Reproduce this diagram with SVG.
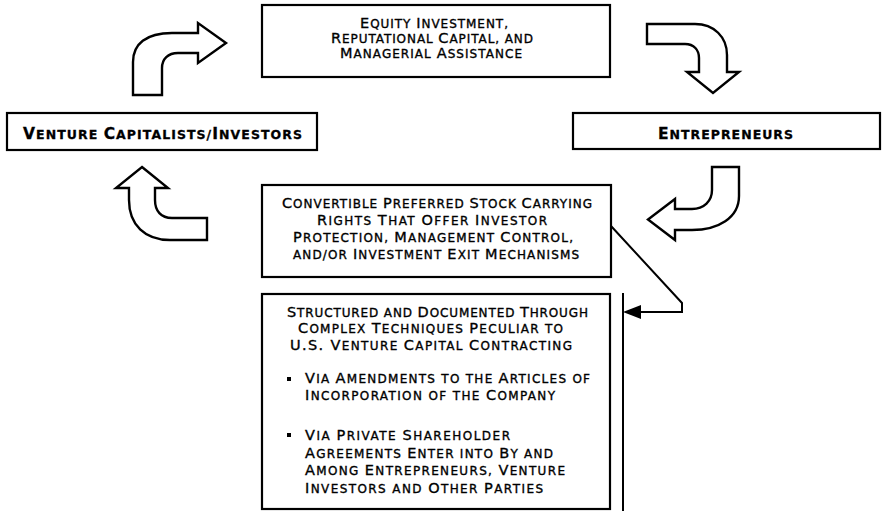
<svg xmlns="http://www.w3.org/2000/svg" width="884" height="511" viewBox="0 0 884 511">
<style>
.box{fill:#fff;stroke:#000;stroke-width:2.2}
.blk{fill:#fff;stroke:#000;stroke-width:2.4;stroke-linejoin:miter}
.t{font-family:"DejaVu Sans",Verdana,sans-serif;font-size:12px;text-transform:uppercase;fill:#000;stroke:#000;stroke-width:0.35}
.c{font-size:14.5px}
.n{font-family:"DejaVu Sans",Verdana,sans-serif;font-size:12.5px;font-weight:bold;text-transform:uppercase;fill:#000;stroke:#000;stroke-width:0.3}
.nc{font-size:15.5px}
.ln{fill:none;stroke:#000;stroke-width:2}
</style>
<rect width="884" height="511" fill="#fff"/>

<g id="arrows">
<path class="blk" d="M133,95 L133,62 C133,44 146,33 172,33 L198,33 L198,23 L226,43 L198,63 L198,53 L178,53 C168,53 162,59 162,68 L162,95 Z"/>
<path class="blk" d="M647,24 L695,24 C714,24 727,37 727,55 L727,72 L739,72 L713,93 L687,72 L699,72 L699,58 C699,50 694,44 685,44 L647,44 Z"/>
<path class="blk" d="M712,167 L739,167 L739,196 C739,218 718,230 692,230 L675,230 L675,240 L648,219.5 L675,199 L675,209 L692,209 C704,209 712,201 712,190 Z"/>
<path class="blk" d="M142,167 L168,188 L155,188 L155,200 C155,211 161,218 172,218 L207,218 L207,240 L170,240 C145,240 129,225 129,200 L129,188 L116,188 Z"/>
</g>

<g id="connectors">
<polyline class="ln" points="611,226 682,303 682,312 638,312"/>
<polygon points="623,312 641,305 641,319" fill="#000"/>
<line class="ln" x1="623" y1="293" x2="623" y2="511"/>
</g>

<g id="equity">
<rect class="box" x="262" y="5" width="348" height="72"/>
<text class="t" x="360" y="28" textLength="148"><tspan class="c">E</tspan>quity <tspan class="c">I</tspan>nvestment,</text>
<text class="t" x="331" y="43" textLength="202"><tspan class="c">R</tspan>eputational <tspan class="c">C</tspan>apital, and</text>
<text class="t" x="340" y="58" textLength="182"><tspan class="c">M</tspan>anagerial <tspan class="c">A</tspan>ssistance</text>
</g>

<g id="vc">
<rect class="box" x="7" y="113" width="310" height="37"/>
<text class="n" x="23" y="139" textLength="279"><tspan class="nc">V</tspan>enture <tspan class="nc">C</tspan>apitalists/<tspan class="nc">I</tspan>nvestors</text>
</g>

<g id="entrepreneurs">
<rect class="box" x="573" y="113" width="307" height="36"/>
<text class="n" x="658" y="139" textLength="135"><tspan class="nc">E</tspan>ntrepreneurs</text>
</g>

<g id="stock">
<rect class="box" x="262" y="185" width="349" height="92"/>
<text class="t" x="282" y="208" textLength="310"><tspan class="c">C</tspan>onvertible <tspan class="c">P</tspan>referred <tspan class="c">S</tspan>tock <tspan class="c">C</tspan>arrying</text>
<text class="t" x="317" y="225" textLength="230"><tspan class="c">R</tspan>ights <tspan class="c">T</tspan>hat <tspan class="c">O</tspan>ffer <tspan class="c">I</tspan>nvestor</text>
<text class="t" x="293" y="242" textLength="280"><tspan class="c">P</tspan>rotection, <tspan class="c">M</tspan>anagement <tspan class="c">C</tspan>ontrol,</text>
<text class="t" x="293" y="259" textLength="286">and/or <tspan class="c">I</tspan>nvestment <tspan class="c">E</tspan>xit <tspan class="c">M</tspan>echanisms</text>
</g>

<g id="structured">
<rect class="box" x="262" y="294" width="348" height="215"/>
<text class="t" x="287" y="317" textLength="301"><tspan class="c">S</tspan>tructured and <tspan class="c">D</tspan>ocumented <tspan class="c">T</tspan>hrough</text>
<text class="t" x="298" y="333" textLength="265"><tspan class="c">C</tspan>omplex <tspan class="c">T</tspan>echniques <tspan class="c">P</tspan>eculiar to</text>
<text class="t" x="290" y="350" textLength="282"><tspan class="c">U.S. V</tspan>enture <tspan class="c">C</tspan>apital <tspan class="c">C</tspan>ontracting</text>
<rect x="287" y="377" width="4" height="4" fill="#000"/>
<text class="t" x="305" y="383" textLength="285"><tspan class="c">V</tspan>ia <tspan class="c">A</tspan>mendments to the <tspan class="c">A</tspan>rticles of</text>
<text class="t" x="305" y="400" textLength="250"><tspan class="c">I</tspan>ncorporation of the <tspan class="c">C</tspan>ompany</text>
<rect x="287" y="433" width="4" height="4" fill="#000"/>
<text class="t" x="305" y="440" textLength="205"><tspan class="c">V</tspan>ia <tspan class="c">P</tspan>rivate <tspan class="c">S</tspan>hareholder</text>
<text class="t" x="305" y="458" textLength="248"><tspan class="c">A</tspan>greements <tspan class="c">E</tspan>nter into <tspan class="c">B</tspan>y and</text>
<text class="t" x="305" y="475" textLength="260"><tspan class="c">A</tspan>mong <tspan class="c">E</tspan>ntrepreneurs, <tspan class="c">V</tspan>enture</text>
<text class="t" x="305" y="493" textLength="238"><tspan class="c">I</tspan>nvestors and <tspan class="c">O</tspan>ther <tspan class="c">P</tspan>arties</text>
</g>
</svg>
